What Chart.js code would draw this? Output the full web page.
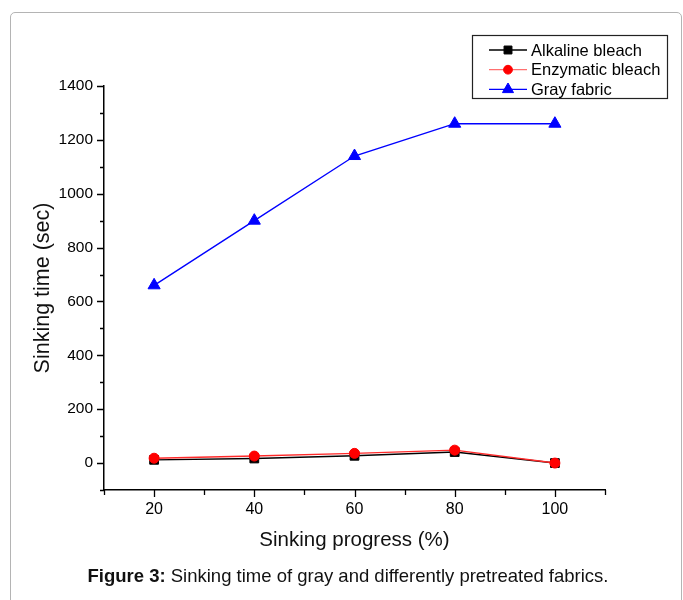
<!DOCTYPE html>
<html><head><meta charset="utf-8">
<script src="https://cdn.jsdelivr.net/npm/chart.js@4"></script>
<style>
html,body{margin:0;padding:0;background:#fff;}
#wrap{position:relative;width:683px;height:600px;overflow:hidden;}
#frame{position:absolute;left:10px;top:12px;width:672px;height:640px;border:1px solid #b4b4b4;border-radius:5px;box-sizing:border-box;}
#c{position:absolute;left:0;top:0;}
#cap{position:absolute;left:0;width:696px;top:565px;text-align:center;font:18.5px "Liberation Sans",Arial,sans-serif;color:#111;white-space:nowrap;}
</style></head><body>
<div id="wrap"><div id="frame"></div><canvas id="c" width="683" height="600"></canvas>
<div id="cap"><b>Figure 3:</b> Sinking time of gray and differently pretreated fabrics.</div></div>
<script>
const progress = [20, 40, 60, 80, 100];
const alkaline = [12, 17, 27, 41, 0];
const enzymatic = [18, 26, 36, 48, 0];
const gray = [660, 900, 1140, 1260, 1260];
const seriesNames = ['Alkaline bleach', 'Enzymatic bleach', 'Gray fabric'];
const xTickLabels = [20, 40, 60, 80, 100];
const yTickLabels = [0, 200, 400, 600, 800, 1000, 1200, 1400];

const FONT = '"Liberation Sans", Arial, sans-serif';
const toPts = arr => progress.map((x, i) => ({x: x, y: arr[i]}));

const axisTicks = {
  id: 'axisTicks',
  afterDraw(chart) {
    const {ctx, chartArea: a, scales: {x, y}} = chart;
    ctx.save();
    ctx.strokeStyle = '#000';
    ctx.lineWidth = 1.3;
    ctx.beginPath();
    x.ticks.forEach(t => {
      const px = Math.round(x.getPixelForValue(t.value)) + 0.5;
      const len = xTickLabels.includes(t.value) ? 7 : 5;
      ctx.moveTo(px, a.bottom); ctx.lineTo(px, a.bottom + len);
    });
    y.ticks.forEach(t => {
      const py = Math.round(y.getPixelForValue(t.value)) + 0.5;
      const len = yTickLabels.includes(t.value) ? 7 : 4;
      ctx.moveTo(a.left - len, py); ctx.lineTo(a.left, py);
    });
    ctx.stroke();
    ctx.restore();
  }
};

const legendBox = {
  id: 'legendBox',
  afterDraw(chart) {
    const ctx = chart.ctx;
    ctx.save();
    ctx.strokeStyle = '#222';
    ctx.lineWidth = 1.2;
    ctx.strokeRect(472.5, 35.5, 195, 63);
    chart.data.datasets.forEach((ds, i) => {
      const yy = 50 + i * 19.7;
      ctx.strokeStyle = ds.legendLine || ds.borderColor;
      ctx.lineWidth = 1.3;
      ctx.beginPath(); ctx.moveTo(489, yy); ctx.lineTo(527, yy); ctx.stroke();
      ctx.fillStyle = ds.pointBackgroundColor;
      ctx.strokeStyle = ds.pointBorderColor;
      ctx.lineWidth = 1;
      Chart.helpers.drawPoint(ctx, {pointStyle: ds.pointStyle, radius: ds.pointRadius - 0.6, rotation: 0, borderWidth: 1}, 508, yy);
      ctx.fillStyle = '#000';
      ctx.font = '16.5px ' + FONT;
      ctx.textBaseline = 'middle';
      ctx.textAlign = 'left';
      ctx.fillText(ds.label, 531, yy + 1);
    });
    ctx.restore();
  }
};

new Chart(document.getElementById('c'), {
  type: 'line',
  data: {
    datasets: [
      {label: seriesNames[0], data: toPts(alkaline), borderColor: '#000', backgroundColor: '#000',
       pointStyle: 'rect', pointRadius: 6.2, pointBackgroundColor: '#000', pointBorderColor: '#000',
       borderWidth: 1.4, pointBorderWidth: 1, order: 2},
      {label: seriesNames[1], data: toPts(enzymatic), borderColor: '#ff2a2a', legendLine: '#ff7070', backgroundColor: '#ff0000',
       pointStyle: 'circle', pointRadius: 5, pointBackgroundColor: '#ff0000', pointBorderColor: '#ff0000',
       borderWidth: 1.4, pointBorderWidth: 1, order: 1},
      {label: seriesNames[2], data: toPts(gray), borderColor: '#0000ff', backgroundColor: '#0000ff',
       pointStyle: 'triangle', pointRadius: 7, pointBackgroundColor: '#0000ff', pointBorderColor: '#0000ff',
       borderWidth: 1.4, pointBorderWidth: 1, order: 0}
    ]
  },
  options: {
    responsive: false,
    devicePixelRatio: 1,
    animation: false,
    layout: {padding: {left: 24, right: 78, top: 86, bottom: 47}},
    plugins: {legend: {display: false}, tooltip: {enabled: false}},
    scales: {
      x: {
        type: 'linear', position: 'bottom', min: 10, max: 110,
        afterFit: s => { s.height = 63; },
        grid: {drawOnChartArea: false, drawTicks: true, tickLength: 7, tickColor: 'rgba(0,0,0,0)'},
        border: {display: true, color: '#000', width: 1.5},
        ticks: {stepSize: 10, autoSkip: false, maxRotation: 0, padding: 3, color: '#000',
                font: {family: FONT, size: 16},
                callback: v => xTickLabels.includes(v) ? String(v) : ''},
        title: {display: true, text: 'Sinking progress (%)', color: '#111',
                font: {family: FONT, size: 20.5}, padding: {top: 0, bottom: 0}}
      },
      y: {
        type: 'linear', min: -100, max: 1400,
        afterFit: s => { s.width = 80; },
        grid: {drawOnChartArea: false, drawTicks: true, tickLength: 7, tickColor: 'rgba(0,0,0,0)'},
        border: {display: true, color: '#000', width: 1.5},
        ticks: {stepSize: 100, autoSkip: false, padding: 4, color: '#000',
                font: {family: FONT, size: 15.5},
                callback: v => yTickLabels.includes(v) ? String(v) : ''},
        title: {display: true, text: 'Sinking time (sec)', color: '#111',
                font: {family: FONT, size: 21.5}, padding: {top: 6, bottom: 0}}
      }
    }
  },
  plugins: [axisTicks, legendBox]
});
</script>
</body></html>
